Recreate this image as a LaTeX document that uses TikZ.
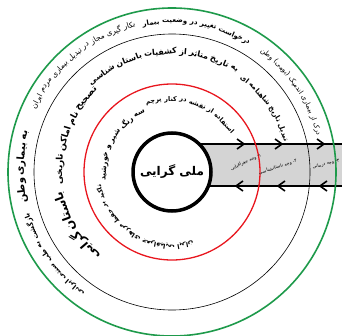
\documentclass[tikz,border=0pt]{standalone}
\usepackage{fontspec}
\newfontfamily\arabicfont[Script=Arabic]{DejaVu Sans}
\TeXXeTstate=1
\usetikzlibrary{positioning}
\definecolor{ringGreen}{HTML}{1E9A4B}
\definecolor{ringRed}{HTML}{E8161E}
\definecolor{bandGray}{HTML}{D4D4D4}
\newcommand{\fa}[1]{\arabicfont\fontsize{#1}{#1}\selectfont}
\newcommand{\fab}[1]{\arabicfont\bfseries\fontsize{#1}{#1}\selectfont}
\newdimen\wordlen
\newcommand{\wordgap}{2.6}
% words of one phrase set one by one round the centre, counterclockwise
\newcommand{\ringtext}[5]{%
  \xdef\ringang{#3}%
  \foreach \w [count=\i] in {#5}{%
    \pgfinterruptpicture\global\setbox1=\hbox{#4\beginR\w\endR}\endpgfinterruptpicture
    \global\wordlen=\wd1
    \pgfmathsetmacro{\halfang}{0.5*\wordlen/(#2)*180/pi}%
    \pgfmathsetmacro{\midang}{\ringang+\halfang}%
    \node[ringword, font=#4, rotate=\midang-90] (#1-\i) at (\midang:#2) {\beginR\w\endR};
    \pgfmathsetmacro{\nextang}{\ringang+2*\halfang+\wordgap/(#2)*180/pi}%
    \xdef\ringang{\nextang}%
  }%
}

\begin{document}
\begin{tikzpicture}[x=1pt, y=1pt,
  ringword/.style={inner sep=0pt, anchor=center},
  bandline/.style={line width=2.4pt},
  chevron/.style={line width=1.6pt, line join=miter},
  bandlabel/.style={font=\fa{4.6}, inner sep=0pt}]
  \useasboundingbox (0,0) rectangle (342,335);
  \clip (0,0) rectangle (342,335);
  \coordinate (C) at (172,163);

  % band of the three aspects
  \fill[bandGray] (172,149) rectangle (342,191);
  \draw[bandline] (172,191) -- (342,191);
  \draw[bandline] (172,149) -- (342,149);
  \foreach \x in {241,279,321}
    \draw[chevron] (\x-4,196) -- (\x+3,191) -- (\x-4,186);
  \foreach \x in {239,281,323}
    \draw[chevron] (\x+4,154) -- (\x-3,149) -- (\x+4,144);

  % rings
  \draw[ringGreen, line width=1.6pt] (C) circle[radius=164];
  \draw[line width=0.6pt] (C) circle[radius=138];
  \draw[ringRed, line width=1.3pt] (C) circle[radius=88];
  \node[circle, draw, line width=3.5pt, fill=white, minimum size=78pt,
        font=\fab{12}] (core) at (C) {\beginR ملی گرایی\endR};

  \node[bandlabel, rotate=25] (aspGeo) at (246,173) {\beginR ۱- وجه جغرافیایی\endR};
  \node[bandlabel, rotate=18] (aspArch) at (278,168) {\beginR ۲- وجه باستانشناسی\endR};
  \node[bandlabel, rotate=15] (aspCure) at (326,171) {\beginR ۳- وجه درمانی\endR};

  \begin{scope}[shift={(172,163)}]
    % outer ring
    \ringtext{outA}{151}{14}{\fa{7}}{درک,از,بیماری,اندمیک,(بومی),وطن}
    \ringtext{outB}{150}{59}{\fab{7}}{درخواست,تغییر,در,وضعیت,بیمار}
    \ringtext{outC}{152}{104}{\fa{7.5}}{بکار,گیری,مجاز,در,تبدیل,بیماری,مردم,ایران}
    \ringtext{outD}{151}{164}{\fab{10}}{به,بیماری,وطن}
    \ringtext{outE}{151}{196}{\fab{7}}{بازگشت,به,طب,سنتی,ایرانی}
    % middle ring
    \ringtext{midA}{118}{15}{\fab{7}}{تبدیل,تاریخ,شاهنامه,ای}
    \ringtext{midB}{120}{57}{\fab{8}}{به,تاریخ,متاثر,از,کشفیات,باستان,شناسی}
    \ringtext{midC}{112}{132}{\fab{9}}{تصحیح,نام,اماکن,تاریخی}
    \ringtext{midD}{114}{190}{\fab{12}}{باستان,گرایی}
    % inner ring
    \ringtext{inA}{72}{33}{\fab{6.5}}{استفاده,از,نقشه,در,کنار,پرچم}
    \ringtext{inB}{67}{114}{\fab{7.5}}{سه,رنگ,شیر,و,خورشید}
    \ringtext{inC}{74}{190}{\fab{6.5}}{تاکید,بر,حفظ,مرزهای,جغرافیایی,ایران}
  \end{scope}
\end{tikzpicture}
\end{document}
